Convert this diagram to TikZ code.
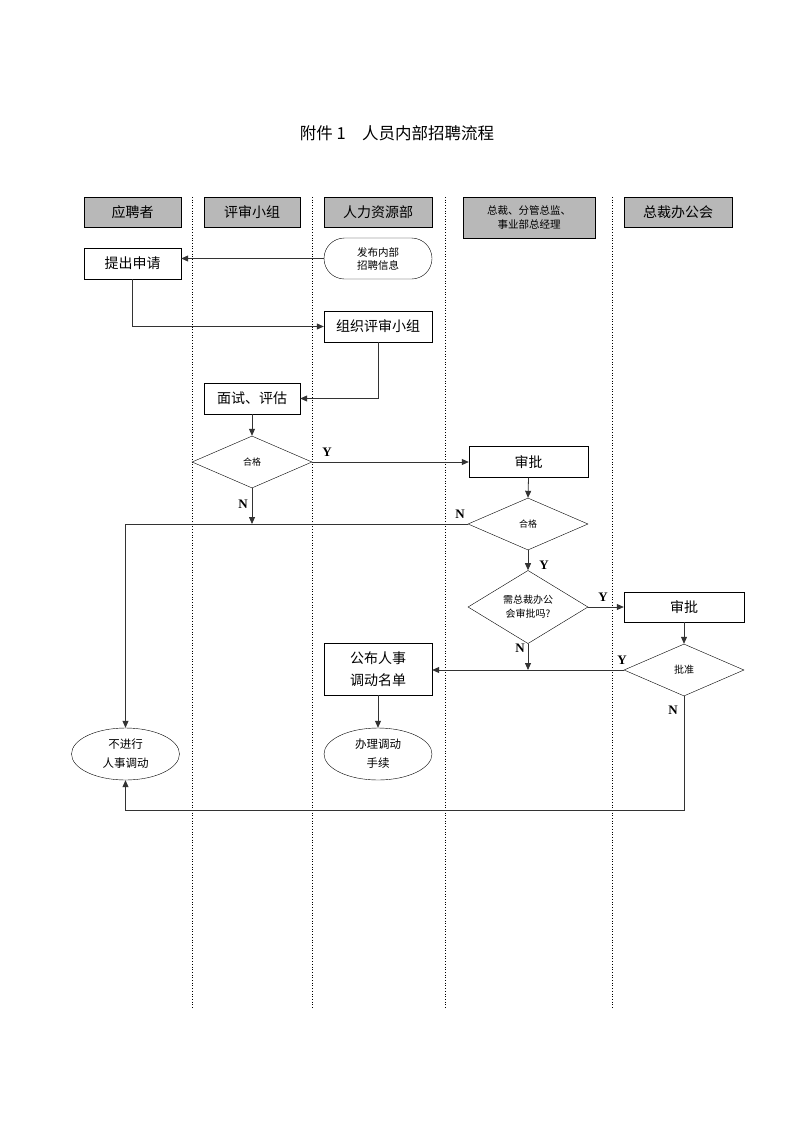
\documentclass[tikz,border=0pt]{standalone}
\usepackage{fontspec}
\setmainfont{Liberation Serif}
\newfontfamily\cjk{Noto Sans CJK SC}
\usetikzlibrary{shapes.geometric,shapes.misc,arrows.meta}
\begin{document}
\begin{tikzpicture}[x=1pt,y=-1pt,
 every node/.style={font=\cjk, inner sep=0pt, align=center},
 hdr/.style={draw, fill=black!28, minimum height=30pt, font=\cjk\fontsize{14}{17}\selectfont},
 box/.style={draw, fill=white, minimum height=31pt, font=\cjk\fontsize{14}{17}\selectfont},
 dia/.style={draw, fill=white, diamond, minimum width=120pt, minimum height=52pt, font=\cjk\fontsize{9}{12}\selectfont},
 oval/.style={draw, fill=white, ellipse, minimum width=108pt, minimum height=52pt, font=\cjk\fontsize{11.5}{19}\selectfont},
 lane/.style={dotted, line width=0.7pt},
 conn/.style={draw=black!80, line width=0.8pt},
 arr/.style={conn, -{Triangle[length=7pt,width=6pt]}},
 yn/.style={font=\bfseries\fontsize{13}{15}\selectfont}
]
\path[use as bounding box] (0,0) rectangle (793,1122);
% lanes
\draw[lane] (192,197) -- (192,1008);
\draw[lane] (312,197) -- (312,1008);
\draw[lane] (445,197) -- (445,1008);
\draw[lane] (612,197) -- (612,1008);
% title
\node (title) at (397,133) {\fontsize{16.5}{20}\selectfont 附件 1　人员内部招聘流程};
% headers
\node[hdr, minimum width=97pt] (h1) at (132.5,212) {应聘者};
\node[hdr, minimum width=96pt] (h2) at (252,212) {评审小组};
\node[hdr, minimum width=108pt] (h3) at (378,212) {人力资源部};
\node[hdr, minimum width=132pt, minimum height=41pt, font=\cjk\fontsize{10.5}{14}\selectfont] (h4) at (529,217.5) {总裁、分管总监、\\事业部总经理};
\node[hdr, minimum width=108pt] (h5) at (678,212) {总裁办公会};
% nodes
\node[box, minimum width=97pt] (tichu) at (132.5,263.5) {提出申请};
\node[draw, fill=white, rounded rectangle, minimum width=108pt, minimum height=41pt, font=\cjk\fontsize{10.5}{13}\selectfont] (fabu) at (378,258.5) {发布内部\\招聘信息};
\node[box, minimum width=108pt] (zuzhi) at (378,326.5) {组织评审小组};
\node[box, minimum width=96pt] (mianshi) at (252,398.5) {面试、评估};
\node[dia] (d1) at (252,462) {合格};
\node[box, minimum width=119pt] (shenpi1) at (528.5,462) {审批};
\node[dia] (d2) at (528,524) {合格};
\node[dia, minimum height=54pt, font=\cjk\fontsize{10}{14}\selectfont] (d3) at (528,607) {需总裁办公\\会审批吗?};
\node[box, minimum width=120pt, minimum height=30pt] (shenpi2) at (684,607) {审批};
\node[dia, font=\cjk\fontsize{10}{12}\selectfont] (d4) at (684,670) {批准};
\node[box, minimum width=108pt, minimum height=52pt, font=\cjk\fontsize{14}{22}\selectfont] (gongbu) at (378,669) {公布人事\\调动名单};
\node[oval] (banli) at (378,754) {办理调动\\手续};
\node[oval] (bujin) at (125.5,754) {不进行\\人事调动};
% helper coordinates
\coordinate (j1) at (d1.south |- d2.west);
\coordinate (j2) at (d3.south |- d4.west);
\coordinate (bturn) at (684,810);
% connectors
\draw[arr] (fabu.west) -- (fabu.west -| tichu.east);
\draw[arr] (tichu.south) |- (zuzhi.west);
\draw[arr] (zuzhi.south) |- (mianshi.east);
\draw[arr] (mianshi.south) -- (d1.north);
\draw[arr] (d1.east) -- (d1.east -| shenpi1.west);
\draw[arr] (d1.south) -- (j1);
\draw[arr] (shenpi1.south) -- (d2.north);
\draw[arr] (d2.west) -| (bujin.north);
\draw[arr] (d2.south) -- (d3.north);
\draw[arr] (d3.east) -- (shenpi2.west);
\draw[arr] (shenpi2.south) -- (d4.north);
\draw[arr] (d3.south) -- (j2);
\draw[arr] (d4.west) -- (d4.west -| gongbu.east);
\draw[arr] (gongbu.south) -- (banli.north);
\draw[arr] (d4.south) -- (bturn) -| (bujin.south);
% Y/N labels
\node[yn] (y1) at (327,452) {Y};
\node[yn] (n1) at (243,504) {N};
\node[yn] (n2) at (460,514) {N};
\node[yn] (y2) at (544,565) {Y};
\node[yn] (y3) at (603,597) {Y};
\node[yn] (n3) at (520,648) {N};
\node[yn] (y4) at (622,660) {Y};
\node[yn] (n4) at (673,710) {N};
\end{tikzpicture}
\end{document}
